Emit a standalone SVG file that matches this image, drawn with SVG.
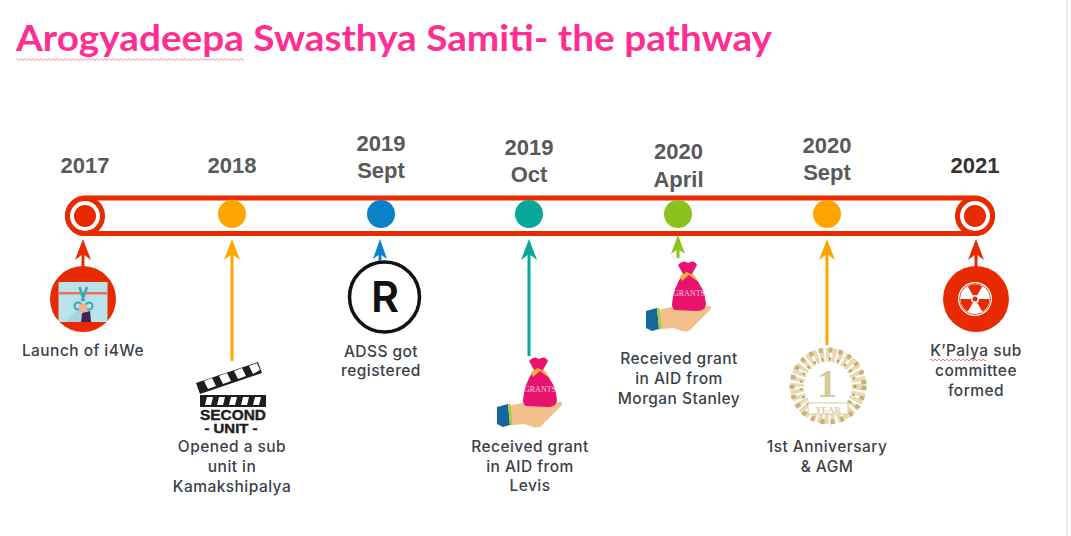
<svg xmlns="http://www.w3.org/2000/svg" width="1071" height="536" viewBox="0 0 1071 536">
<style>
text{font-family:"Inter","Liberation Sans",sans-serif;text-anchor:middle}
.yr{font-size:22px;font-weight:700;fill:#595959;font-family:"Liberation Sans",sans-serif}
.lb{font-size:15.5px;font-weight:500;fill:#3a3f4a;letter-spacing:.45px}
.ar{fill:none;stroke-width:3}
.sq{fill:none;stroke:#f08080;stroke-width:1}
</style>
<defs>
<g id="bag">
<path d="M-18 14 Q-4 9 12 11 L22 13 L31 10 Q36 9 33 14 L16 31 Q12 37 5 35 L-4 32 Q-12 33 -18 33Z" fill="#f3c08c"/>
<path d="M-31 15 L-20 12 L-18 33 L-25 35 L-31 32Z" fill="#15689c"/>
<path d="M-20 12 L-17.500 12 L-15.500 33 L-18 33Z" fill="#a8cf38"/>
<path d="M6 -22 L1 -31 Q6 -37 11 -33 Q17 -37 20 -31 L15 -22 Q28 -8 29 8 Q29 15 20 15 L-2 14 Q-5 13 -5 8 Q-4 -8 6 -22Z" fill="#e9136f"/>
<path d="M3 -20 L10 -24 L18 -20 L20 -15 L12 -21 L5 -15Z" fill="#f4b13a"/>
<text x="12" y="0" style="font-family:'Liberation Serif',serif;font-size:8px;fill:#f9c9dd">GRANTS</text>
</g>
</defs>
<rect width="1071" height="536" fill="#fff"/>
<rect x="1066" y="0" width="2" height="536" fill="#ececec"/>
<g id="title">
<text x="394" y="51" style="font-family:'Lato','Noto Sans',sans-serif;font-size:36px;font-weight:700;fill:#ff2e93" textLength="756" lengthAdjust="spacingAndGlyphs">Arogyadeepa Swasthya Samiti- the pathway</text>
<path d="M16 59.500 q1 -2 2 0 t2 0 t2 0 t2 0 t2 0 t2 0 t2 0 t2 0 t2 0 t2 0 t2 0 t2 0 t2 0 t2 0 t2 0 t2 0 t2 0 t2 0 t2 0 t2 0 t2 0 t2 0 t2 0 t2 0 t2 0 t2 0 t2 0 t2 0 t2 0 t2 0 t2 0 t2 0 t2 0 t2 0 t2 0 t2 0 t2 0 t2 0 t2 0 t2 0 t2 0 t2 0 t2 0 t2 0 t2 0 t2 0 t2 0 t2 0 t2 0 t2 0 t2 0 t2 0 t2 0 t2 0 t2 0 t2 0 t2 0 t2 0 t2 0 t2 0 t2 0 t2 0 t2 0 t2 0 t2 0 t2 0 t2 0 t2 0 t2 0 t2 0 t2 0 t2 0 t2 0 t2 0 t2 0 t2 0 t2 0 t2 0 t2 0 t2 0 t2 0 t2 0 t2 0 t2 0 t2 0 t2 0 t2 0 t2 0 t2 0 t2 0 t2 0 t2 0 t2 0 t2 0 t2 0 t2 0 t2 0 t2 0 t2 0 t2 0 t2 0 t2 0 t2 0 t2 0 t2 0 t2 0 t2 0 t2 0 t2 0 t2 0 t2 0 t2 0 t2 0 t2 0" class="sq"/>
</g>
<g id="connectors">
<rect x="67.500" y="198" width="925" height="35.500" rx="17.750" fill="none" stroke="#e82a00" stroke-width="5"/>
<path class="ar" stroke="#e82a00" d="M83 268V245"/><path fill="#e82a00" d="M83 239L91 260L83 254L75 260Z"/>
<path class="ar" stroke="#ffa500" d="M232 361V245"/><path fill="#ffa500" d="M232 239L240 260L232 254L224 260Z"/>
<path class="ar" stroke="#0a82c8" d="M380 262V245"/><path fill="#0a82c8" d="M380 239L387 259L380 254L373 259Z"/>
<path class="ar" stroke="#08a89c" d="M529 356V245"/><path fill="#08a89c" d="M529 239L537 260L529 254L521 260Z"/>
<path class="ar" stroke="#8cc21c" d="M678 258V242"/><path fill="#8cc21c" d="M678 235L685 254L678 249L671 254Z"/>
<path class="ar" stroke="#ffa500" d="M827 345V245"/><path fill="#ffa500" d="M827 239L835 260L827 254L819 260Z"/>
<path class="ar" stroke="#e82a00" d="M976 268V245"/><path fill="#e82a00" d="M976 239L984 260L976 254L968 260Z"/>
</g>
<g id="n2017">
<text class="yr" x="85" y="173">2017</text>
<circle cx="85" cy="216" r="17.500" fill="#fff" stroke="#e82a00" stroke-width="5"/>
<circle cx="85" cy="216" r="11" fill="#e82a00"/>
<circle cx="83" cy="299" r="33" fill="#e82a00"/>
<rect x="58.500" y="282" width="49" height="40" fill="#b9e2ec"/>
<rect x="58.500" y="292" width="49" height="2.500" fill="#f0705a"/>
<path d="M65 322L81 306V322Z" fill="#a4d6e2"/>
<path d="M79.500 287L84 301M87 287L82 301" fill="none" stroke="#3aa8b0" stroke-width="2.500"/>
<circle cx="78" cy="306" r="3.500" fill="none" stroke="#3aa8b0" stroke-width="2"/>
<circle cx="89" cy="306" r="3.500" fill="none" stroke="#3aa8b0" stroke-width="2"/>
<circle cx="83" cy="308" r="4.500" fill="#f2b08a"/>
<path d="M82 313L90 311L91 322H81Z" fill="#43234f"/>
<text class="lb" x="83" y="356">Launch of i4We</text>
</g>
<g id="n2018">
<text class="yr" x="232" y="173">2018</text>
<circle cx="232" cy="214" r="14" fill="#ffa500"/>
<path d="M196 383L258 362L262 373L200 394Z" fill="#1f1d1d"/>
<path d="M204 381L212 378L216 386L208 389ZM219 376L227 373L231 381L223 384ZM234 371L242 368L246 376L238 379ZM249 366L257 363L260 370L253 374Z" fill="#fff"/>
<rect x="200" y="395" width="66" height="12" fill="#1f1d1d"/>
<path d="M207 397h6l-2 8h-6ZM219 397h6l-2 8h-6ZM231 397h6l-2 8h-6ZM243 397h6l-2 8h-6ZM255 397h6l-2 8h-6Z" fill="#fff"/>
<text x="233" y="419.500" textLength="66" lengthAdjust="spacingAndGlyphs" style="font-family:'Liberation Sans',sans-serif;font-size:15px;font-weight:700;fill:#1f1d1d;stroke:#1f1d1d;stroke-width:.4">SECOND</text>
<text x="231" y="433" textLength="53" lengthAdjust="spacingAndGlyphs" style="font-family:'Liberation Sans',sans-serif;font-size:13px;font-weight:700;fill:#1f1d1d;stroke:#1f1d1d;stroke-width:.4">- UNIT -</text>
<text class="lb" x="232" y="452">Opened a sub</text>
<text class="lb" x="232" y="472">unit in</text>
<text class="lb" x="232" y="492">Kamakshipalya</text>
</g>
<g id="n2019s">
<text class="yr" x="381" y="151">2019</text>
<text class="yr" x="381" y="178">Sept</text>
<circle cx="381" cy="214" r="14" fill="#0a82c8"/>
<circle cx="384.500" cy="297" r="35" fill="#fff" stroke="#111" stroke-width="3.500"/>
<text x="385" y="312" style="font-size:43px;font-weight:600;fill:#111">R</text>
<text class="lb" x="381" y="357">ADSS got</text>
<text class="lb" x="381" y="376">registered</text>
</g>
<g id="n2019o">
<text class="yr" x="529" y="155">2019</text>
<text class="yr" x="529" y="182">Oct</text>
<circle cx="529" cy="214" r="14" fill="#08a89c"/>
<use href="#bag" x="528" y="392"/>
<text class="lb" x="530" y="452">Received grant</text>
<text class="lb" x="530" y="472">in AID from</text>
<text class="lb" x="530" y="491">Levis</text>
</g>
<g id="n2020a">
<text class="yr" x="678.500" y="159">2020</text>
<text class="yr" x="678.500" y="187">April</text>
<circle cx="678" cy="214" r="14" fill="#8cc21c"/>
<use href="#bag" x="677" y="296"/>
<text class="lb" x="679" y="364">Received grant</text>
<text class="lb" x="679" y="384">in AID from</text>
<text class="lb" x="679" y="404">Morgan Stanley</text>
</g>
<g id="n2020s">
<text class="yr" x="827" y="153">2020</text>
<text class="yr" x="827" y="180">Sept</text>
<circle cx="827" cy="214" r="14" fill="#ffa500"/>
<circle cx="828" cy="386" r="31" fill="none" stroke="#e7dab5" stroke-width="14" stroke-dasharray="4 2"/>
<circle cx="828" cy="386" r="27" fill="none" stroke="#b99f5f" stroke-width="3" stroke-dasharray="2 6"/>
<circle cx="828" cy="386" r="36" fill="none" stroke="#c9b27a" stroke-width="5" stroke-dasharray="4 6"/>
<text x="827" y="397" style="font-family:'Liberation Serif',serif;font-size:40px;font-weight:700;fill:#d8c998">1</text>
<rect x="808" y="403" width="40" height="11" fill="#fff" stroke="#dccd9f"/>
<text x="828" y="413" style="font-family:'Liberation Serif',serif;font-size:9px;font-weight:700;fill:#dccd9f">YEAR</text>
<text class="lb" x="827" y="452">1st Anniversary</text>
<text class="lb" x="827" y="472">&amp; AGM</text>
</g>
<g id="n2021">
<text class="yr" x="975" y="173" style="fill:#333">2021</text>
<circle cx="975" cy="216" r="17.500" fill="#fff" stroke="#e82a00" stroke-width="5"/>
<circle cx="975" cy="216" r="11" fill="#e82a00"/>
<circle cx="976" cy="299" r="33" fill="#e82a00"/>
<circle cx="975" cy="299" r="17" fill="#fff"/>
<circle cx="975" cy="299" r="15.500" fill="none" stroke="#e82a00" stroke-width=".8"/>
<path d="M975 299L967.750 286.440A14.500 14.500 0 0 1 982.250 286.440ZM975 299L989.500 299A14.500 14.500 0 0 1 982.250 311.560ZM975 299L967.750 311.560A14.500 14.500 0 0 1 960.500 299Z" fill="#e82a00"/>
<circle cx="975" cy="299" r="4" fill="#fff"/>
<circle cx="975" cy="299" r="2.500" fill="#e82a00"/>
<text class="lb" x="976" y="356">K’Palya sub</text>
<text class="lb" x="976" y="376">committee</text>
<text class="lb" x="976" y="396">formed</text>
<path class="sq" d="M930 360 q1 -2 2 0 t2 0 t2 0 t2 0 t2 0 t2 0 t2 0 t2 0 t2 0 t2 0 t2 0 t2 0 t2 0 t2 0 t2 0 t2 0 t2 0 t2 0 t2 0 t2 0 t2 0 t2 0 t2 0 t2 0 t2 0 t2 0 t2 0 t2 0"/>
</g>
</svg>
